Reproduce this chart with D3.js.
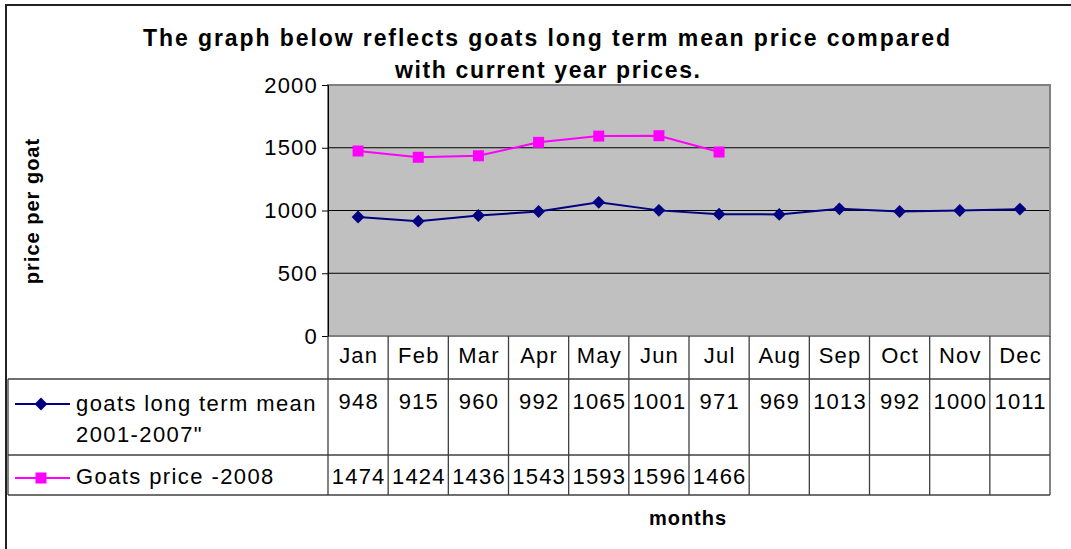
<!DOCTYPE html>
<html><head><meta charset="utf-8">
<script src="https://cdn.jsdelivr.net/npm/d3@7/dist/d3.min.js"></script>
<style>body{margin:0;background:#fff}svg{display:block;font-family:"Liberation Sans",Arial,sans-serif}</style>
</head><body><svg id="c" width="1071" height="549"></svg>
<script>
const months = ["Jan","Feb","Mar","Apr","May","Jun","Jul","Aug","Sep","Oct","Nov","Dec"];
const meanValues = [948,915,960,992,1065,1001,971,969,1013,992,1000,1011];
const price2008 = [1474,1424,1436,1543,1593,1596,1466];
const yTicks = [0,500,1000,1500,2000];
const seriesNames = [["goats long term mean","2001-2007\""],["Goats price -2008"]];
const titleLines = ["The graph below reflects goats long term mean price compared","with current year prices."];

const svg = d3.select("#c");
const L = 328, R = 1050, T = 85, B = 336;
const x = d3.scaleBand().domain(months).range([L, R]);
const y = d3.scaleLinear().domain([0, 2000]).range([B, T]);
const FS = 22, LS = 1.2;

// outer border
svg.append("path").attr("d","M6,549V5H1071").attr("fill","none").attr("stroke","#222").attr("stroke-width",2);

// plot area
svg.append("rect").attr("x",L).attr("y",T).attr("width",R-L).attr("height",B-T).attr("fill","#c0c0c0");
svg.selectAll(".grid").data(yTicks.filter(d=>d>0&&d<2000)).enter().append("line")
  .attr("x1",L).attr("x2",R).attr("y1",d=>y(d)).attr("y2",d=>y(d)).attr("stroke","#000").attr("stroke-width",1);
svg.append("rect").attr("x",L).attr("y",T).attr("width",R-L).attr("height",B-T).attr("fill","none").attr("stroke","#808080").attr("stroke-width",2);

// y axis
const yAxis = d3.axisLeft(y).tickValues(yTicks).tickFormat(d3.format("d")).tickSize(6).tickPadding(4);
const gy = svg.append("g").attr("transform",`translate(${L},0)`).call(yAxis);
gy.select(".domain").attr("stroke","#000");
gy.selectAll(".tick line").attr("stroke","#000");
gy.selectAll("text").attr("font-size",FS).attr("letter-spacing",LS).attr("fill","#000").attr("font-family","Liberation Sans, Arial, sans-serif");

// lines
const line = d3.line().x((d,i)=>x(months[i])+x.bandwidth()/2).y(d=>y(d));
svg.append("path").datum(meanValues).attr("d",line).attr("fill","none").attr("stroke","#000080").attr("stroke-width",2);
svg.append("path").datum(price2008).attr("d",line).attr("fill","none").attr("stroke","#ff00ff").attr("stroke-width",2);
const diamond = d3.symbol().type(d3.symbolDiamond2).size(105);
svg.selectAll(".dm").data(meanValues).enter().append("path")
  .attr("d",diamond).attr("fill","#000080")
  .attr("transform",(d,i)=>`translate(${x(months[i])+x.bandwidth()/2},${y(d)})`);
svg.selectAll(".sq").data(price2008).enter().append("rect")
  .attr("x",(d,i)=>x(months[i])+x.bandwidth()/2-5.5).attr("y",d=>y(d)-5.5)
  .attr("width",11).attr("height",11).attr("fill","#ff00ff");

// data table
const tg = svg.append("g").attr("stroke","#404040").attr("stroke-width",1.3);
[379,455,495].forEach(yy=>tg.append("line").attr("x1",8).attr("x2",R).attr("y1",yy).attr("y2",yy));
tg.append("line").attr("x1",8).attr("x2",8).attr("y1",379).attr("y2",495);
months.forEach(m=>tg.append("line").attr("x1",x(m)).attr("x2",x(m)).attr("y1",B).attr("y2",495));
tg.append("line").attr("x1",R).attr("x2",R).attr("y1",B).attr("y2",495);

const txt = svg.append("g").attr("font-size",FS).attr("letter-spacing",LS).attr("fill","#000").attr("text-anchor","middle");
months.forEach((m,i)=>{
  const cx = x(m)+x.bandwidth()/2 + LS/2;
  txt.append("text").attr("x",cx).attr("y",363).text(m);
  txt.append("text").attr("x",cx).attr("y",409).text(meanValues[i]);
  if (i < price2008.length) txt.append("text").attr("x",cx).attr("y",484).text(price2008[i]);
});

// legend in table
const lg = svg.append("g");
lg.append("line").attr("x1",15).attr("x2",70).attr("y1",404).attr("y2",404).attr("stroke","#000080").attr("stroke-width",2);
lg.append("path").attr("d",diamond).attr("fill","#000080").attr("transform","translate(41,404)");
lg.append("line").attr("x1",15).attr("x2",70).attr("y1",478).attr("y2",478).attr("stroke","#ff00ff").attr("stroke-width",2);
lg.append("rect").attr("x",35.5).attr("y",472.5).attr("width",11).attr("height",11).attr("fill","#ff00ff");
const lt = lg.append("g").attr("font-size",FS).attr("letter-spacing",1.4);
lt.append("text").attr("x",76).attr("y",411).text(seriesNames[0][0]);
lt.append("text").attr("x",76).attr("y",442).text(seriesNames[0][1]);
lt.append("text").attr("x",76).attr("y",484).text(seriesNames[1][0]);

// titles
svg.append("text").attr("x",143).attr("y",46).attr("font-size",23).attr("font-weight","bold")
  .attr("textLength",807).attr("lengthAdjust","spacing").text(titleLines[0]);
svg.append("text").attr("x",395).attr("y",78).attr("font-size",23).attr("font-weight","bold")
  .attr("textLength",305).attr("lengthAdjust","spacing").text(titleLines[1]);
svg.append("text").attr("transform","translate(39,211) rotate(-90)").attr("text-anchor","middle").attr("font-size",20).attr("letter-spacing",1).attr("font-weight","bold").text("price per goat");
svg.append("text").attr("x",688).attr("y",525).attr("text-anchor","middle").attr("font-size",20).attr("letter-spacing",1).attr("font-weight","bold").text("months");
</script></body></html>
